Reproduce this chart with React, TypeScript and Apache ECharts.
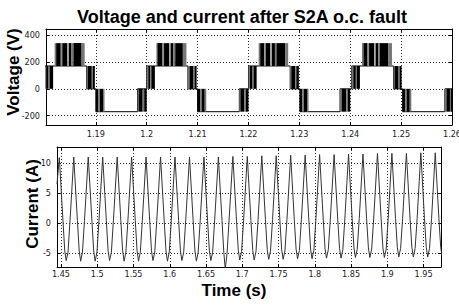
import React, { useEffect, useRef } from 'react';
import * as echarts from 'echarts';

const titleText = 'Voltage and current after S2A o.c. fault';
const voltageAxisName = 'Voltage (V)';
const currentAxisName = 'Current (A)';
const timeAxisName = 'Time (s)';

const voltageXRange = [1.1802, 1.26];
const voltageYRange = [-269, 445];
const voltageXStep = 0.01;
const voltageYStep = 200;

const currentXRange = [1.4445, 1.974];
const currentYRange = [-7.27, 12.66];
const currentXStep = 0.05;
const currentYStep = 5;

// Voltage level path between the PWM blocks: [time s, volts]
const voltageEnvelope: [number, number][] = [
  [1.1800, 0], [1.1800, 170], [1.1882, 170], [1.1882, 0], [1.1900, 0], [1.1900, -170], [1.1982, -170], [1.1982, 0],
  [1.2000, 0], [1.2000, 170], [1.2081, 170], [1.2081, 0], [1.2100, 0], [1.2100, -170], [1.2182, -170], [1.2182, 0],
  [1.2200, 0], [1.2200, 170], [1.2282, 170], [1.2282, 0], [1.2301, 0], [1.2301, -170], [1.2380, -170], [1.2380, 0],
  [1.2403, 0], [1.2403, 170], [1.2485, 170], [1.2485, 0], [1.2503, 0], [1.2503, -170], [1.2586, -170], [1.2586, 0], [1.2600, 0],
];

// PWM switching bands: [t start, t end, low level, high level, switching density]
const voltageBands: number[][] = [
  [1.1800, 1.1803, 0, 170, 0.5], [1.1803, 1.1807, 0, 170, 1], [1.1807, 1.1809, 0, 170, 0.5], [1.1809, 1.1816, 0, 170, 1],
  [1.1819, 1.1822, 170, 340, 0.5], [1.1822, 1.1831, 170, 340, 1], [1.1831, 1.1834, 170, 340, 0.4], [1.1834, 1.1844, 170, 340, 1],
  [1.1844, 1.1847, 170, 340, 0.3], [1.1847, 1.1852, 170, 340, 1], [1.1852, 1.1856, 170, 340, 0.5], [1.1856, 1.1872, 170, 340, 1],
  [1.1872, 1.1878, 170, 340, 0.5],
  [1.1882, 1.1884, 0, 170, 0.5], [1.1884, 1.1892, 0, 170, 1], [1.1892, 1.1894, 0, 170, 0.5], [1.1894, 1.1898, 0, 170, 1],
  [1.1900, 1.1905, -170, 0, 1], [1.1905, 1.1908, -170, 0, 0.5], [1.1908, 1.1914, -170, 0, 1], [1.1914, 1.1917, -170, 0, 0.5],
  [1.1982, 1.1984, -170, 0, 0.5], [1.1984, 1.1992, -170, 0, 1], [1.1992, 1.1995, -170, 0, 0.5], [1.1995, 1.2000, -170, 0, 1],

  [1.2000, 1.2003, 0, 170, 0.5], [1.2003, 1.2007, 0, 170, 1], [1.2007, 1.2009, 0, 170, 0.5], [1.2009, 1.2016, 0, 170, 1],
  [1.2019, 1.2021, 170, 340, 0.5], [1.2021, 1.2031, 170, 340, 1], [1.2031, 1.2034, 170, 340, 0.4], [1.2034, 1.2044, 170, 340, 1],
  [1.2044, 1.2047, 170, 340, 0.3], [1.2047, 1.2052, 170, 340, 1], [1.2052, 1.2056, 170, 340, 0.5], [1.2056, 1.2071, 170, 340, 1],
  [1.2071, 1.2078, 170, 340, 0.5],
  [1.2081, 1.2084, 0, 170, 0.5], [1.2084, 1.2092, 0, 170, 1], [1.2092, 1.2094, 0, 170, 0.5], [1.2094, 1.2098, 0, 170, 1],
  [1.2100, 1.2105, -170, 0, 1], [1.2105, 1.2108, -170, 0, 0.5], [1.2108, 1.2114, -170, 0, 1], [1.2114, 1.2117, -170, 0, 0.5],
  [1.2182, 1.2184, -170, 0, 0.5], [1.2184, 1.2192, -170, 0, 1], [1.2192, 1.2195, -170, 0, 0.5], [1.2195, 1.2200, -170, 0, 1],

  [1.2200, 1.2203, 0, 170, 0.5], [1.2203, 1.2208, 0, 170, 1], [1.2208, 1.2210, 0, 170, 0.5], [1.2210, 1.2216, 0, 170, 1],
  [1.2220, 1.2223, 170, 340, 0.5], [1.2223, 1.2231, 170, 340, 1], [1.2231, 1.2234, 170, 340, 0.4], [1.2234, 1.2243, 170, 340, 1],
  [1.2243, 1.2246, 170, 340, 0.3], [1.2246, 1.2252, 170, 340, 1], [1.2252, 1.2255, 170, 340, 0.5], [1.2255, 1.2272, 170, 340, 1],
  [1.2272, 1.2278, 170, 340, 0.5],
  [1.2282, 1.2284, 0, 170, 0.5], [1.2284, 1.2292, 0, 170, 1], [1.2292, 1.2294, 0, 170, 0.5], [1.2294, 1.2299, 0, 170, 1],
  [1.2301, 1.2306, -170, 0, 1], [1.2306, 1.2309, -170, 0, 0.5], [1.2309, 1.2315, -170, 0, 1], [1.2315, 1.2318, -170, 0, 0.5],
  [1.2380, 1.2383, -170, 0, 0.5], [1.2383, 1.2392, -170, 0, 1], [1.2392, 1.2395, -170, 0, 0.5], [1.2395, 1.2400, -170, 0, 1],

  [1.2403, 1.2406, 0, 170, 0.5], [1.2406, 1.2411, 0, 170, 1], [1.2411, 1.2413, 0, 170, 0.5], [1.2413, 1.2419, 0, 170, 1],
  [1.2423, 1.2426, 170, 340, 0.5], [1.2426, 1.2434, 170, 340, 1], [1.2434, 1.2437, 170, 340, 0.4], [1.2437, 1.2447, 170, 340, 1],
  [1.2447, 1.2450, 170, 340, 0.3], [1.2450, 1.2455, 170, 340, 1], [1.2455, 1.2458, 170, 340, 0.5], [1.2458, 1.2475, 170, 340, 1],
  [1.2475, 1.2482, 170, 340, 0.5],
  [1.2485, 1.2487, 0, 170, 0.5], [1.2487, 1.2495, 0, 170, 1], [1.2495, 1.2497, 0, 170, 0.5], [1.2497, 1.2501, 0, 170, 1],
  [1.2503, 1.2508, -170, 0, 1], [1.2508, 1.2511, -170, 0, 0.5], [1.2511, 1.2517, -170, 0, 1], [1.2517, 1.2520, -170, 0, 0.5],
  [1.2586, 1.2589, -170, 0, 0.5], [1.2589, 1.2596, -170, 0, 1], [1.2596, 1.2598, -170, 0, 0.5], [1.2598, 1.2600, -170, 0, 1],
];

// Phase current: [time s, amps]
const currentTrace: [number, number][] = [
  [1.4445, 6.5],
  [1.4477, 10.9], [1.4527, 0.5], [1.4552, -4.6], [1.4572, -6.2], [1.4597, -4.8], [1.4625, 0.5],
  [1.4676, 11.0], [1.4726, 0.5], [1.4751, -4.6], [1.4771, -6.3], [1.4796, -4.8], [1.4824, 0.5],
  [1.4876, 11.0], [1.4926, 0.5], [1.4951, -4.6], [1.4971, -6.3], [1.4996, -4.8], [1.5024, 0.5],
  [1.5075, 11.0], [1.5125, 0.5], [1.5150, -4.6], [1.5170, -6.2], [1.5195, -4.8], [1.5223, 0.5],
  [1.5275, 11.0], [1.5325, 0.5], [1.5350, -4.6], [1.5370, -6.3], [1.5395, -4.8], [1.5423, 0.5],
  [1.5474, 11.0], [1.5524, 0.5], [1.5549, -4.6], [1.5569, -6.3], [1.5594, -4.8], [1.5622, 0.5],
  [1.5673, 11.0], [1.5723, 0.5], [1.5748, -4.6], [1.5768, -6.2], [1.5793, -4.8], [1.5821, 0.5],
  [1.5873, 11.0], [1.5923, 0.5], [1.5948, -4.6], [1.5968, -6.3], [1.5993, -4.8], [1.6021, 0.5],
  [1.6072, 11.0], [1.6122, 0.5], [1.6147, -4.6], [1.6167, -6.2], [1.6192, -4.8], [1.6220, 0.5],
  [1.6272, 11.0], [1.6322, 0.5], [1.6347, -4.6], [1.6367, -6.3], [1.6392, -4.8], [1.6420, 0.5],
  [1.6471, 11.0], [1.6521, 0.5], [1.6546, -4.6], [1.6566, -6.2], [1.6591, -4.8], [1.6619, 0.5],
  [1.6670, 11.0], [1.6720, 0.5], [1.6745, -4.8], [1.6765, -7.6], [1.6790, -5.0], [1.6818, 0.5],
  [1.6870, 11.1], [1.6920, 0.5], [1.6945, -4.5], [1.6965, -6.1], [1.6990, -4.7], [1.7018, 0.5],
  [1.7069, 11.1], [1.7119, 0.5], [1.7144, -4.5], [1.7164, -6.1], [1.7189, -4.7], [1.7217, 0.5],
  [1.7269, 11.2], [1.7319, 0.6], [1.7344, -4.4], [1.7364, -6.0], [1.7389, -4.6], [1.7417, 0.6],
  [1.7468, 11.2], [1.7518, 0.6], [1.7543, -4.4], [1.7563, -6.0], [1.7588, -4.6], [1.7616, 0.6],
  [1.7667, 11.3], [1.7717, 0.6], [1.7742, -4.3], [1.7762, -5.9], [1.7787, -4.5], [1.7815, 0.6],
  [1.7867, 11.3], [1.7917, 0.7], [1.7942, -4.3], [1.7962, -5.9], [1.7987, -4.5], [1.8015, 0.7],
  [1.8066, 11.4], [1.8116, 0.7], [1.8141, -4.2], [1.8161, -5.8], [1.8186, -4.4], [1.8214, 0.7],
  [1.8266, 11.4], [1.8316, 0.7], [1.8341, -4.2], [1.8361, -5.8], [1.8386, -4.4], [1.8414, 0.7],
  [1.8465, 11.5], [1.8515, 0.8], [1.8540, -4.1], [1.8560, -5.7], [1.8585, -4.3], [1.8613, 0.8],
  [1.8664, 11.5], [1.8714, 0.8], [1.8739, -4.1], [1.8759, -5.7], [1.8784, -4.3], [1.8812, 0.8],
  [1.8864, 11.6], [1.8914, 0.8], [1.8939, -4.1], [1.8959, -5.7], [1.8984, -4.3], [1.9012, 0.8],
  [1.9063, 11.6], [1.9113, 0.8], [1.9138, -4.0], [1.9158, -5.6], [1.9183, -4.2], [1.9211, 0.8],
  [1.9263, 11.6], [1.9313, 0.8], [1.9338, -4.0], [1.9358, -5.6], [1.9383, -4.2], [1.9411, 0.8],
  [1.9462, 11.7], [1.9512, 0.8], [1.9537, -4.0], [1.9557, -5.6], [1.9582, -4.2], [1.9610, 0.8],
  [1.9661, 11.7], [1.9711, 0.8], [1.9736, -4.0], [1.9756, -5.6],
];

const tickFont = "'Liberation Sans Narrow', 'DejaVu Sans Condensed', 'Liberation Sans', Arial, sans-serif";
const labelFont = "'Liberation Sans', Arial, Helvetica, sans-serif";
const fmt = (v: number) => String(+v.toFixed(2));

function makeAxis(
  gridIndex: number,
  range: number[],
  step: number,
  position: string,
  showLabels: boolean,
  margin: number,
  showMaxLabel: boolean,
) {
  return {
    type: 'value',
    gridIndex,
    position,
    min: range[0],
    max: range[1],
    minInterval: step,
    maxInterval: step,
    splitNumber: 8,
    scale: true,
    axisLine: { show: true, onZero: false, lineStyle: { color: '#000', width: 1 } },
    axisTick: { show: true, inside: true, length: 3, lineStyle: { color: '#000', width: 1 } },
    axisLabel: {
      show: showLabels,
      formatter: fmt,
      showMinLabel: false,
      showMaxLabel,
      margin,
      fontSize: 9,
      color: '#222',
      fontFamily: tickFont,
    },
    splitLine: showLabels
      ? { show: true, lineStyle: { type: [1, 2], color: '#333', width: 1 } }
      : { show: false },
  };
}

export default function App() {
  const ref = useRef<HTMLDivElement>(null);

  useEffect(() => {
    if (!ref.current) return;
    const chart = echarts.init(ref.current, undefined, { renderer: 'svg' });

    const option: any = {
      animation: false,
      backgroundColor: '#fff',
      grid: [
        { left: 46, top: 29, width: 406, height: 96, show: false, containLabel: false, outerBoundsMode: 'none' },
        { left: 57, top: 147, width: 384, height: 120, show: false, containLabel: false, outerBoundsMode: 'none' },
      ],
      xAxis: [
        makeAxis(0, voltageXRange, voltageXStep, 'bottom', true, 4, true),
        makeAxis(1, currentXRange, currentXStep, 'bottom', true, 2, false),
        makeAxis(0, voltageXRange, voltageXStep, 'top', false, 4, false),
        makeAxis(1, currentXRange, currentXStep, 'top', false, 3, false),
      ],
      yAxis: [
        makeAxis(0, voltageYRange, voltageYStep, 'left', true, 6, false),
        makeAxis(1, currentYRange, currentYStep, 'left', true, 6, false),
        makeAxis(0, voltageYRange, voltageYStep, 'right', false, 6, false),
        makeAxis(1, currentYRange, currentYStep, 'right', false, 6, false),
      ],
      series: [
        {
          type: 'line',
          name: 'voltage',
          xAxisIndex: 0,
          yAxisIndex: 0,
          data: voltageEnvelope,
          showSymbol: false,
          symbol: 'none',
          clip: true,
          lineStyle: { color: '#000', width: 1 },
          z: 2,
          silent: true,
        },
        {
          type: 'custom',
          name: 'pwm',
          xAxisIndex: 0,
          yAxisIndex: 0,
          data: voltageBands,
          encode: { x: [0, 1], y: [2, 3] },
          clip: true,
          z: 3,
          silent: true,
          renderItem: (params: any, api: any) => {
            const p1 = api.coord([api.value(0), api.value(3)]);
            const p2 = api.coord([api.value(1), api.value(2)]);
            const d = api.value(4);
            const g = Math.round(235 * (1 - d));
            const rect = echarts.graphic.clipRectByRect(
              { x: p1[0], y: p1[1], width: Math.max(p2[0] - p1[0], 0.8), height: p2[1] - p1[1] },
              params.coordSys,
            );
            if (!rect) return null;
            return {
              type: 'rect',
              shape: rect,
              style: { fill: `rgb(${g},${g},${g})` },
            };
          },
        },
        {
          type: 'line',
          name: 'current',
          xAxisIndex: 1,
          yAxisIndex: 1,
          data: currentTrace,
          showSymbol: false,
          symbol: 'none',
          clip: true,
          lineStyle: { color: '#333', width: 1 },
          silent: true,
        },
      ],
      graphic: [
        {
          type: 'text',
          x: 242,
          y: 17,
          style: {
            text: titleText,
            fontSize: 18,
            fontWeight: 'bold',
            fontFamily: labelFont,
            fill: '#000',
            align: 'center',
            verticalAlign: 'middle',
          },
        },
        {
          type: 'text',
          x: 13,
          y: 72,
          rotation: Math.PI / 2,
          style: {
            text: voltageAxisName,
            fontSize: 17,
            fontWeight: 'bold',
            fontFamily: labelFont,
            fill: '#000',
            align: 'center',
            verticalAlign: 'middle',
          },
        },
        {
          type: 'text',
          x: 32,
          y: 204,
          rotation: Math.PI / 2,
          style: {
            text: currentAxisName,
            fontSize: 17,
            fontWeight: 'bold',
            fontFamily: labelFont,
            fill: '#000',
            align: 'center',
            verticalAlign: 'middle',
          },
        },
        {
          type: 'text',
          x: 234,
          y: 290,
          style: {
            text: timeAxisName,
            fontSize: 17,
            fontWeight: 'bold',
            fontFamily: labelFont,
            fill: '#000',
            align: 'center',
            verticalAlign: 'middle',
          },
        },
      ],
    };

    chart.setOption(option);
    return () => chart.dispose();
  }, []);

  return (
    <div
      ref={ref}
      style={{ position: 'absolute', left: 0, top: 0, width: 459, height: 305, background: '#fff' }}
    />
  );
}
